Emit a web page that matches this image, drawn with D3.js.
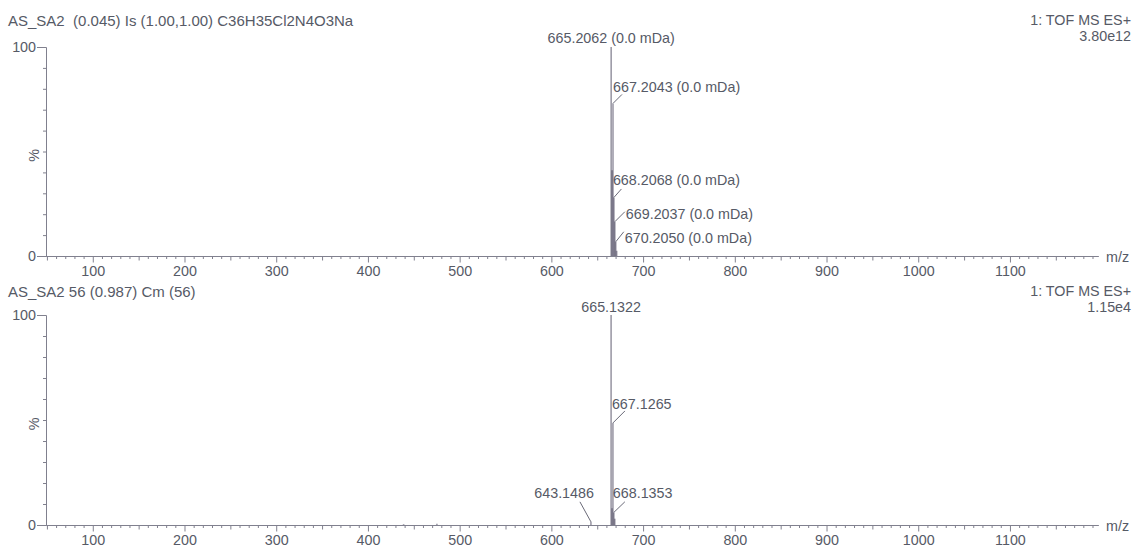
<!DOCTYPE html>
<html>
<head>
<meta charset="utf-8">
<script src="https://cdn.jsdelivr.net/npm/d3@7/dist/d3.min.js"></script>
<style>
  html, body { margin: 0; padding: 0; background: #ffffff; }
  svg { display: block; }
  text { font-family: "Liberation Sans", Arial, Helvetica, sans-serif; fill: #565a66; white-space: pre; }
</style>
</head>
<body>
<svg id="chart" width="1138" height="549"></svg>
<script>
// ---- Spectrum data -------------------------------------------------------
// Upper trace: calculated isotope model
const topTitle = "AS_SA2  (0.045) Is (1.00,1.00) C36H35Cl2N4O3Na";
const topMode = "1: TOF MS ES+";
const topMax = "3.80e12";
const topMz = [665.2062, 666.2095, 667.2043, 668.2068, 669.2037, 670.2050, 671.2071];
const topInt = [100, 41, 73, 28, 16.4, 6.8, 2.5];
const topLabeled = [true, false, true, true, true, true, false];
const topSuffix = " (0.0 mDa)";

// Lower trace: measured spectrum, scan 56
const botTitle = "AS_SA2 56 (0.987) Cm (56)";
const botMode = "1: TOF MS ES+";
const botMax = "1.15e4";
const botMz = [438.9, 475.2, 643.1486, 665.1322, 666.1350, 667.1265, 668.1353, 669.1290];
const botInt = [0.4, 0.6, 1.5, 100, 8, 48.6, 6, 3];
const botLabeled = [false, false, true, true, false, true, true, false];
const botSuffix = "";

// Axis ticks
const xMajor = [100, 200, 300, 400, 500, 600, 700, 800, 900, 1000, 1100];
const yLabels = [0, 100];
const xUnit = "m/z";
const yUnit = "%";

// ---- Drawing -------------------------------------------------------------
const svg = d3.select("#chart");
const FONT = 14.3;        // annotation / axis text
const TITLE_FONT = 15;    // run description line
const axisColor = "#80808e";
const textColor = "#565a66";

const x = d3.scaleLinear().domain([49, 1196]).range([46, 1098]);

// label layout per m/z: leader end (lx, ly) and text anchor point (tx, ty), relative to peak top
const labelLayout = {
  "665.2062": { center: true, ty: -9 },
  "667.2043": { lx: 9, ly: -9, tx: 0, ty: -16 },
  "668.2068": { lx: 7.5, ly: -8.5, tx: -1, ty: -17.5 },
  "669.2037": { lx: 10, ly: -10, tx: 11, ty: -8 },
  "670.2050": { lx: 8, ly: -10, tx: 9, ty: -4 },
  "643.1486": { lx: -11, ly: -20, tx: 3, ty: -29, anchor: "end" },
  "665.1322": { center: true, ty: -8 },
  "667.1265": { lx: 12, ly: -12, tx: -1, ty: -19 },
  "668.1353": { lx: 11, ly: -10.6, tx: -1, ty: -19 }
};

function panel(opts) {
  const y = d3.scaleLinear().domain([0, 100]).range([opts.y0, opts.y100]);
  const g = svg.append("g");

  // headers
  g.append("text").attr("x", 8).attr("y", opts.titleY)
    .attr("dominant-baseline", "central").style("font-size", TITLE_FONT + "px").text(opts.title);
  g.append("text").attr("x", 1131).attr("y", opts.titleY).attr("text-anchor", "end")
    .attr("dominant-baseline", "central").style("font-size", FONT + "px").text(opts.mode);
  g.append("text").attr("x", 1131).attr("y", opts.titleY + 16).attr("text-anchor", "end")
    .attr("dominant-baseline", "central").style("font-size", FONT + "px").text(opts.max);

  // x axis: minor (10), medium (50), major (100) ticks
  const xa = g.append("g").attr("transform", `translate(0,${opts.y0})`);
  const minor = d3.range(50, 1200, 10).filter(v => v % 50 !== 0);
  const medium = d3.range(50, 1200, 100);
  xa.append("g").call(d3.axisBottom(x).tickValues(minor).tickSize(3).tickSizeOuter(0).tickFormat(""));
  xa.append("g").call(d3.axisBottom(x).tickValues(medium).tickSize(4.5).tickSizeOuter(0).tickFormat(""));
  xa.append("g").attr("class", "major")
    .call(d3.axisBottom(x).tickValues(xMajor).tickSize(6.5).tickSizeOuter(0).tickPadding(3).tickFormat(d3.format("d")));
  xa.selectAll("path.domain").attr("stroke", axisColor);
  xa.selectAll(".tick line").attr("stroke", axisColor);
  xa.selectAll(".major text").style("font-size", FONT + "px").attr("fill", textColor)
    .style("font-family", "'Liberation Sans', Arial, sans-serif");
  xa.append("text").attr("x", 1106).attr("y", 1).attr("dominant-baseline", "central")
    .style("font-size", FONT + "px").text(xUnit);

  // y axis
  const ya = g.append("g").attr("transform", `translate(${x.range()[0]},0)`);
  ya.append("g").call(d3.axisLeft(y).tickValues(d3.range(10, 100, 10)).tickSize(3).tickSizeOuter(0).tickFormat(""));
  ya.append("g").attr("class", "major")
    .call(d3.axisLeft(y).tickValues(yLabels).tickSize(9).tickSizeOuter(0).tickPadding(1).tickFormat(d3.format("d")));
  ya.selectAll("path.domain").attr("stroke", axisColor);
  ya.selectAll(".tick line").attr("stroke", axisColor);
  ya.selectAll(".major text").style("font-size", FONT + "px").attr("fill", textColor)
    .style("font-family", "'Liberation Sans', Arial, sans-serif");
  const ymid = (opts.y0 + opts.y100) / 2 + 4;
  g.append("text").attr("transform", `translate(34,${ymid}) rotate(-90)`)
    .attr("text-anchor", "middle").attr("dominant-baseline", "central")
    .style("font-size", FONT + "px").text(yUnit);

  // peaks (semi-transparent so overlapping isotope sticks build up darker)
  const peaks = opts.mz.map((m, i) => ({ mz: m, v: opts.int[i], lab: opts.labeled[i] }));
  g.append("g").selectAll("line").data(peaks).join("line")
    .attr("x1", d => x(d.mz)).attr("x2", d => x(d.mz))
    .attr("y1", opts.y0).attr("y2", d => y(d.v))
    .attr("stroke", "#3a3650").attr("stroke-opacity", 0.5).attr("stroke-width", 1.6);

  // peak annotations
  const lg = g.append("g");
  peaks.filter(d => d.lab).forEach(d => {
    const key = d.mz.toFixed(4);
    const L = labelLayout[key] || { lx: 8, ly: -8, tx: 0, ty: -16 };
    const px = x(d.mz), py = y(d.v);
    const txt = key + opts.suffix;
    if (L.center) {
      lg.append("text").attr("x", px).attr("y", py + L.ty).attr("text-anchor", "middle")
        .attr("dominant-baseline", "central").style("font-size", FONT + "px").text(txt);
    } else {
      lg.append("line").attr("x1", px).attr("y1", py).attr("x2", px + L.lx).attr("y2", py + L.ly)
        .attr("stroke", "#6a6a78").attr("stroke-width", 1);
      lg.append("text").attr("x", px + L.tx).attr("y", py + L.ty)
        .attr("text-anchor", L.anchor || "start").attr("dominant-baseline", "central")
        .style("font-size", FONT + "px").text(txt);
    }
  });
}

panel({ title: topTitle, mode: topMode, max: topMax, titleY: 20, y0: 256, y100: 47,
        mz: topMz, int: topInt, labeled: topLabeled, suffix: topSuffix });
panel({ title: botTitle, mode: botMode, max: botMax, titleY: 291, y0: 525, y100: 315,
        mz: botMz, int: botInt, labeled: botLabeled, suffix: botSuffix });
</script>
</body>
</html>
